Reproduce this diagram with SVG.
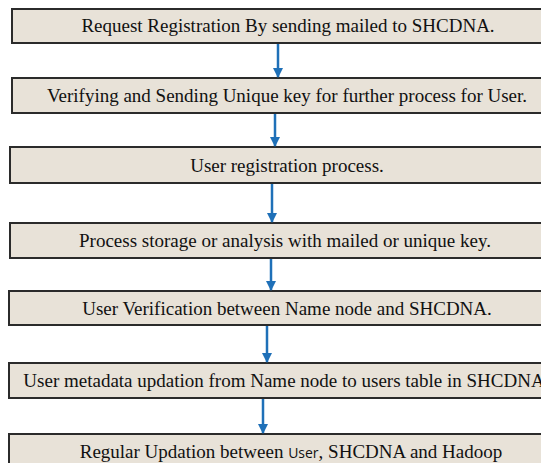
<svg xmlns="http://www.w3.org/2000/svg" width="541" height="463" viewBox="0 0 541 463">
<defs>
<style>
.box{fill:#e8e2d8;stroke:#2b2b2b;stroke-width:2}
.t{font-family:"Liberation Serif","Times New Roman",serif;font-size:19px;fill:#111;text-anchor:middle}
.s{font-family:"Open Sans","Liberation Sans",sans-serif;font-size:14px}
.c{stroke:#1f70b8;stroke-width:2.5;fill:none;marker-end:url(#ah)}
</style>
<marker id="ah" viewBox="0 0 10 10" refX="9" refY="5" markerWidth="4" markerHeight="4" markerUnits="strokeWidth" orient="auto">
<path d="M0,0 L10,5 L0,10 z" fill="#1f70b8"/>
</marker>
</defs>
<rect width="541" height="463" fill="#ffffff"/>
<g id="n1"><rect class="box" x="12" y="9" width="540" height="34"/><text class="t" x="288" y="32">Request Registration By sending mailed to SHCDNA.</text></g>
<g id="n2"><rect class="box" x="12" y="78" width="540" height="35"/><text class="t" x="287" y="102">Verifying and Sending Unique key for further process for User.</text></g>
<g id="n3"><rect class="box" x="10" y="147" width="540" height="36"/><text class="t" x="287" y="172">User registration process.</text></g>
<g id="n4"><rect class="box" x="10" y="223" width="540" height="35"/><text class="t" x="285" y="247">Process storage or analysis with mailed or unique key.</text></g>
<g id="n5"><rect class="box" x="9" y="291" width="540" height="34"/><text class="t" x="287" y="315">User Verification between Name node and SHCDNA.</text></g>
<g id="n6"><rect class="box" x="9" y="363" width="540" height="35"/><text class="t" x="284" y="387">User metadata updation from Name node to users table in SHCDNA</text></g>
<g id="n7"><rect class="box" x="9" y="434" width="540" height="40"/><text class="t" x="291" y="458">Regular Updation between <tspan class="s">User</tspan>, SHCDNA and Hadoop</text></g>
<g id="connectors">
<line class="c" x1="278" y1="44" x2="278" y2="77"/>
<line class="c" x1="275" y1="114" x2="275" y2="146"/>
<line class="c" x1="272" y1="184" x2="272" y2="222"/>
<line class="c" x1="271" y1="259" x2="271" y2="290"/>
<line class="c" x1="267" y1="326" x2="267" y2="362"/>
<line class="c" x1="263" y1="399" x2="263" y2="433"/>
</g>
</svg>
